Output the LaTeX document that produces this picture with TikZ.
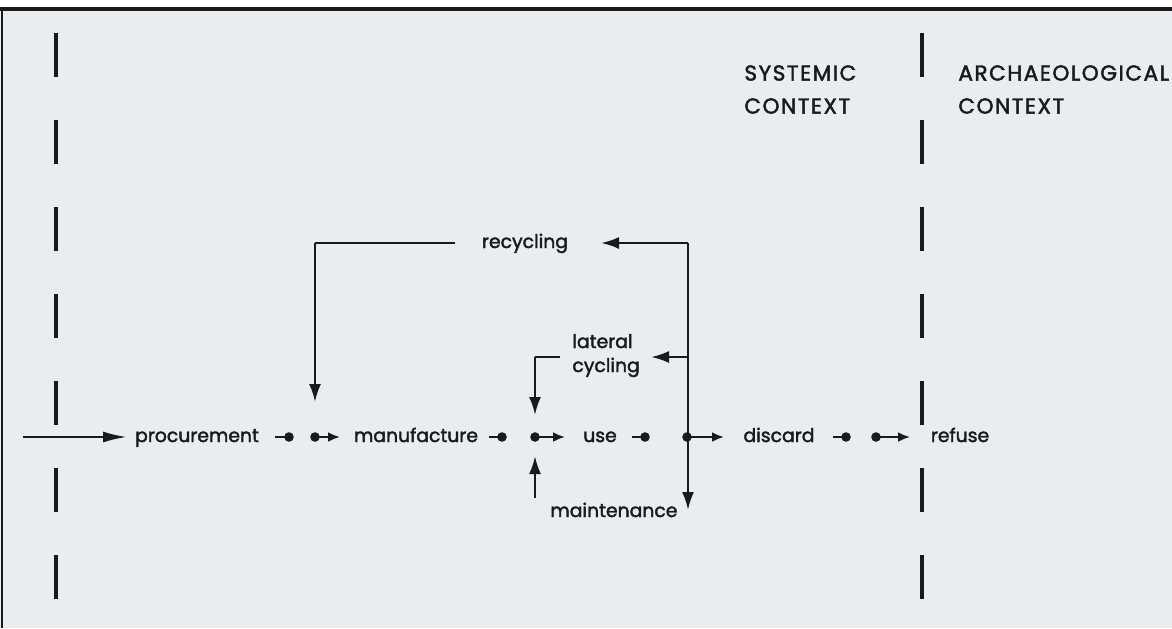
\documentclass[tikz,border=0pt]{standalone}
\usepackage{fontspec}
\setmainfont{Poppins}
\usetikzlibrary{arrows.meta}
\definecolor{paper}{HTML}{E9ECF0}
\definecolor{ink}{HTML}{1A1A1A}
\begin{document}
\begin{tikzpicture}[x=0.5pt,y=-0.5pt,
  word/.style={inner sep=0pt, text=ink, font=\fontsize{9.4pt}{11pt}\selectfont\addfontfeature{FakeBold=2}, text height=7pt, text depth=2pt},
  wordl/.style={word, anchor=west},
  caps/.style={inner sep=0pt, anchor=west, text=ink, font=\fontsize{10.8pt}{12pt}\selectfont\addfontfeature{LetterSpace=7,FakeBold=2}},
  link/.style={draw=ink, line width=1.2pt},
  flow/.style={link, -{Latex[length=6pt,width=5pt]}},
  midflow/.style={link, -{Latex[length=9pt,width=6pt]}},
  bigflow/.style={link, -{Latex[length=12pt,width=5.5pt]}},
  bound/.style={draw=ink, line width=1.7pt, dash pattern=on 22pt off 21.5pt},
  dotmark/.style={fill=ink},
]
\useasboundingbox (0,0) rectangle (1172,628);
\fill[white] (0,0) rectangle (1172,9);
\fill[paper] (0,9) rectangle (1172,628);
\draw[ink, line width=1.6pt] (0,9) -- (1172,9);
\draw[ink, line width=1pt] (2,9) -- (2,628);

% context boundaries
\draw[bound] (56,33) -- (56,628);
\draw[bound] (922,33) -- (922,628);

% headings
\node[caps] (sys1) at (744,73) {SYSTEMIC};
\node[caps] (sys2) at (744,106) {CONTEXT};
\node[caps] (arc1) at (958,73) {ARCHAEOLOGICAL};
\node[caps] (arc2) at (958,106) {CONTEXT};

% main row
\node[word] (proc) at (197,437) {procurement};
\node[word] (manu) at (416,437) {manufacture};
\node[word] (use) at (600,437) {use};
\node[word] (disc) at (779,437) {discard};
\node[word] (ref) at (960,437) {refuse};

\coordinate (inS) at (23,437);
\coordinate (inE) at (127,437);
\draw[bigflow] (inS) -- (inE);

\coordinate (p0) at (275,437); \coordinate (p1) at (289,437);
\coordinate (m0) at (315,437); \coordinate (m1) at (340,437);
\coordinate (q0) at (489,437); \coordinate (q1) at (502,437);
\coordinate (u0) at (535,437); \coordinate (u1) at (565,437);
\coordinate (r0) at (632,437); \coordinate (r1) at (645,437);
\coordinate (j0) at (687,437); \coordinate (j1) at (724,437);
\coordinate (d0) at (833,437); \coordinate (d1) at (846,437);
\coordinate (f0) at (876,437); \coordinate (f1) at (910,437);

\draw[link] (p0) -- (p1); \fill[dotmark] (p1) circle (2.4pt);
\fill[dotmark] (m0) circle (2.4pt); \draw[flow] (m0) -- (m1);
\draw[link] (q0) -- (q1); \fill[dotmark] (q1) circle (2.4pt);
\fill[dotmark] (u0) circle (2.4pt); \draw[flow] (u0) -- (u1);
\draw[link] (r0) -- (r1); \fill[dotmark] (r1) circle (2.4pt);
\fill[dotmark] (j0) circle (2.4pt); \draw[flow] (j0) -- (j1);
\draw[link] (d0) -- (d1); \fill[dotmark] (d1) circle (2.4pt);
\fill[dotmark] (f0) circle (2.4pt); \draw[flow] (f0) -- (f1);

% recycling
\node[word] (rec) at (525,243) {recycling};
\coordinate (jt) at (688,243);
\coordinate (jb) at (688,510);
\coordinate (recA) at (601,243);
\draw[midflow] (jt) -- (recA);
\draw[midflow] (jt) -- (jb);
\coordinate (rl0) at (455,243);
\coordinate (rl1) at (315,243);
\coordinate (rl2) at (315,402);
\draw[link] (rl0) -- (rl1);
\draw[midflow] (rl1) -- (rl2);

% lateral cycling
\node[wordl] (lat1) at (572,343) {lateral};
\node[wordl] (lat2) at (572,367) {cycling};
\coordinate (la0) at (688,357);
\coordinate (la1) at (651,357);
\draw[midflow] (la0) -- (la1);
\coordinate (lb0) at (560,357);
\coordinate (lb1) at (535,357);
\coordinate (lb2) at (535,415);
\draw[link] (lb0) -- (lb1);
\draw[midflow] (lb1) -- (lb2);

% maintenance
\node[wordl] (mnt) at (550,512) {maintenance};
\coordinate (mt0) at (535,498);
\coordinate (mt1) at (535,456);
\draw[midflow] (mt0) -- (mt1);
\end{tikzpicture}
\end{document}
